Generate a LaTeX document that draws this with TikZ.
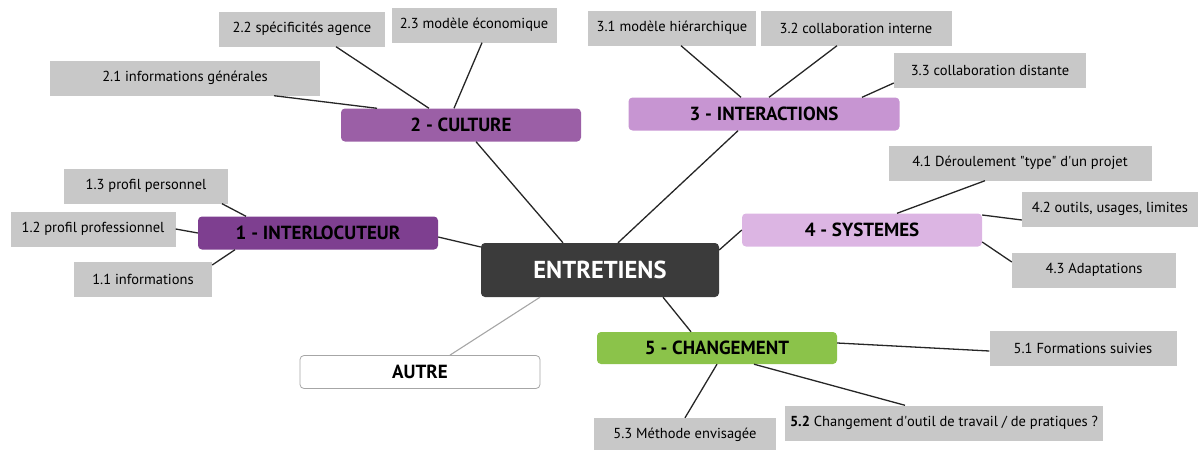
\documentclass[tikz,border=0pt]{standalone}
\usepackage{fontspec}
\setmainfont{PT Sans}
\usepackage{tikz}
\usepackage{xcolor}
\definecolor{centre}{HTML}{3B3B3B}
\definecolor{interloc}{HTML}{7E3F90}
\definecolor{culture}{HTML}{9B5FA6}
\definecolor{interact}{HTML}{C795D2}
\definecolor{systeme}{HTML}{DCB5E3}
\definecolor{changem}{HTML}{8BC34A}
\definecolor{souspt}{HTML}{C8C8C8}

\begin{document}
\begin{tikzpicture}[
  x=1pt, y=-1pt,
  theme/.style={rounded corners=4pt, inner sep=0pt, minimum width=240pt, minimum height=33pt, align=center, font=\fontsize{19}{22}\selectfont\bfseries},
  sub/.style={fill=souspt, inner sep=0pt, minimum height=35pt, align=center, font=\fontsize{14.5}{17}\selectfont},
  lien/.style={line width=1.3pt, black!85},
]
\useasboundingbox (0,0) rectangle (1200,450);

% Centre
\node[rounded corners=4pt, fill=centre, text=white, minimum width=238pt, minimum height=54pt, inner sep=0pt, font=\fontsize{24.5}{28}\selectfont\bfseries] (centre) at (600,270) {ENTRETIENS};

% Themes
\node[theme, fill=interloc] (t1) at (318,233) {1 - INTERLOCUTEUR};
\node[theme, fill=culture] (t2) at (461,125) {2 - CULTURE};
\node[theme, fill=interact, minimum width=271pt] (t3) at (764,114) {3 - INTERACTIONS};
\node[theme, fill=systeme] (t4) at (862,230) {4 - SYSTEMES};
\node[theme, fill=changem, minimum height=32pt] (t5) at (717,348) {5 - CHANGEMENT};
\node[theme, fill=white, draw=black!35, line width=0.8pt] (autre) at (420,372) {AUTRE};

% Sous-points
\node[sub, minimum width=138pt] (s11) at (143,279) {1.1 informations};
\node[sub, minimum width=165pt] (s12) at (93,229) {1.2 profil professionnel};
\node[sub, minimum width=164pt] (s13) at (146,186) {1.3 profil personnel};
\node[sub, minimum width=270pt] (s21) at (185,78) {2.1 informations générales};
\node[sub, minimum width=166pt] (s22) at (302,29) {2.2 spécificités agence};
\node[sub, minimum width=165pt] (s23) at (474,25) {2.3 modèle économique};
\node[sub, minimum width=168pt] (s31) at (672,28) {3.1 modèle hiérarchique};
\node[sub, minimum width=191pt] (s32) at (856,28) {3.2 collaboration interne};
\node[sub, minimum width=192pt] (s33) at (990,70) {3.3 collaboration distante};
\node[sub, minimum width=263pt] (s41) at (1020,163) {4.1 Déroulement \textquotedbl type\textquotedbl{} d\textquotesingle un projet};
\node[sub, minimum width=176pt] (s42) at (1110,209) {4.2 outils, usages, limites};
\node[sub, minimum width=164pt] (s43) at (1094,270) {4.3 Adaptations};
\node[sub, minimum width=187pt] (s51) at (1083,348) {5.1 Formations suivies};
\node[sub, minimum width=318pt] (s52) at (944,423) {\textbf{5.2} Changement d\textquotesingle outil de travail / de pratiques ?};
\node[sub, minimum width=182pt, minimum height=34pt] (s53) at (685,435) {5.3 Méthode envisagée};

% Liens centre
\draw[lien] ([yshift=-4pt]t1.east) -- ([yshift=23pt]centre.west);
\draw[lien] ([xshift=15pt]t2.south) -- ([xshift=-37pt]centre.north);
\draw[lien] ([xshift=-26pt]t3.south) -- ([xshift=18pt]centre.north);
\draw[lien] (t4.west) -- ([yshift=20pt]centre.east);
\draw[lien] ([xshift=-26pt]t5.north) -- ([xshift=63pt]centre.south);
\draw[line width=1.1pt, black!35] ([xshift=30pt]autre.north) -- ([xshift=-60pt]centre.south);

% Liens sous-points
\draw[lien] ([xshift=76pt]s13.south) -- ([xshift=-72pt]t1.north);
\draw[lien] (s12.east) -- (t1.west);
\draw[lien] ([yshift=14pt]s11.east) -- ([xshift=-83pt]t1.south);
\draw[lien] ([xshift=89pt]s21.south) -- ([xshift=-84pt]t2.north);
\draw[lien] ([xshift=34pt]s22.south) -- ([xshift=-32pt]t2.north);
\draw[lien] ([xshift=8pt]s23.south) -- ([xshift=-7pt]t2.north);
\draw[lien] ([xshift=9pt]s31.south) -- ([xshift=-23pt]t3.north);
\draw[lien] ([xshift=-19pt]s32.south) -- ([xshift=5pt]t3.north);
\draw[lien] ([yshift=-13pt]s33.west) -- ([xshift=98pt]t3.north);
\draw[lien] ([xshift=-35pt]s41.south) -- ([xshift=35pt]t4.north);
\draw[lien] ([yshift=-11pt]s42.west) -- ([yshift=15pt]t4.east);
\draw[lien] ([yshift=8pt]s43.west) -- ([yshift=-12pt]t4.east);
\draw[lien] ([yshift=5pt]t5.east) -- ([yshift=-3pt]s51.west);
\draw[lien] ([xshift=37pt]t5.south) -- ([xshift=-39pt]s52.north);
\draw[lien] (t5.south) -- (s53.north);
\end{tikzpicture}
\end{document}
